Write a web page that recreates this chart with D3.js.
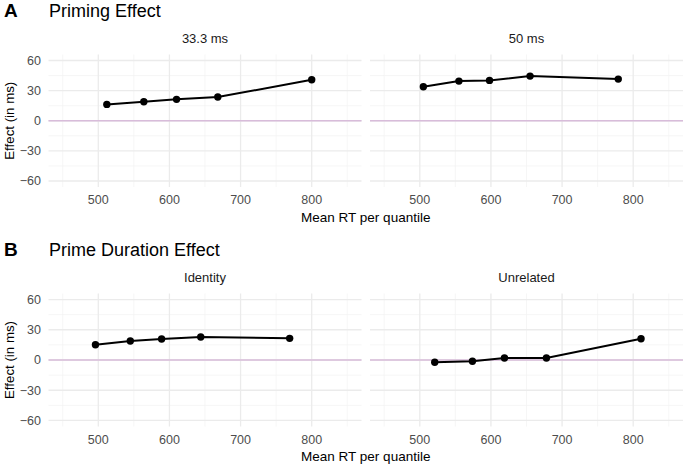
<!DOCTYPE html>
<html>
<head>
<meta charset="utf-8">
<script src="https://cdn.jsdelivr.net/npm/d3@7"></script>
<style>
  body { margin: 0; background: #fff; }
  svg { display: block; font-family: "Liberation Sans", Arial, sans-serif; }
</style>
</head>
<body>
<div id="chart"></div>
<script>
// values
const rtPrime33 = [512, 564, 610, 668, 800]
const effPrime33 = [16.3, 18.9, 21.3, 23.6, 40.8]
const rtPrime50 = [505, 555, 598, 655, 779]
const effPrime50 = [33.8, 39.5, 40.2, 44.5, 41.5]
const rtIdentity = [496, 545, 589, 644, 769]
const effIdentity = [15.2, 18.8, 20.8, 22.8, 21.5]
const rtUnrelated = [521, 574, 619, 678, 811]
const effUnrelated = [-2.3, -1.3, 2, 2, 21.1]

const xTicks = [500, 600, 700, 800]
const xMinor = [450, 550, 650, 750, 850]
const yTicks = [60, 30, 0, -30, -60]
const yMinor = [45, 15, -15, -45]

const rows = [
  { tag: "A", title: "Priming Effect", top: 54.5, bottom: 187,
    facets: [
      { label: "33.3 ms", rt: rtPrime33, eff: effPrime33 },
      { label: "50 ms", rt: rtPrime50, eff: effPrime50 }
    ] },
  { tag: "B", title: "Prime Duration Effect", top: 293.5, bottom: 426.5,
    facets: [
      { label: "Identity", rt: rtIdentity, eff: effIdentity },
      { label: "Unrelated", rt: rtUnrelated, eff: effUnrelated }
    ] }
]

const width = 685, height = 464
const cols = [[48.5, 361.5], [370, 683]]

const svg = d3.select("#chart").append("svg")
  .attr("width", width)
  .attr("height", height)

rows.forEach(row => {
  const y = d3.scaleLinear().domain([-66, 66]).range([row.bottom, row.top])

  svg.append("text")
    .attr("x", 4).attr("y", row.top - 37.5)
    .attr("font-size", 19).attr("font-weight", "bold")
    .text(row.tag)
  svg.append("text")
    .attr("x", 49).attr("y", row.top - 37.5)
    .attr("font-size", 18)
    .text(row.title)

  // y axis title
  svg.append("text")
    .attr("transform", `translate(14,${(row.top + row.bottom) / 2}) rotate(-90)`)
    .attr("text-anchor", "middle")
    .attr("font-size", 13.3)
    .text("Effect (in ms)")

  // y tick labels
  svg.append("g").selectAll("text").data(yTicks).join("text")
    .attr("x", 41).attr("y", d => y(d)).attr("dy", "0.35em")
    .attr("text-anchor", "end").attr("font-size", 12.5).attr("fill", "#4d4d4d")
    .text(d => d < 0 ? "\u2212" + Math.abs(d) : d)

  row.facets.forEach((f, i) => {
    const x = d3.scaleLinear().domain([430, 870]).range(cols[i])
    const g = svg.append("g")

    g.selectAll(".ymin").data(yMinor).join("line")
      .attr("x1", cols[i][0]).attr("x2", cols[i][1])
      .attr("y1", d => y(d)).attr("y2", d => y(d))
      .attr("stroke", "#f2f2f2").attr("stroke-width", 0.7)
    g.selectAll(".xmin").data(xMinor).join("line")
      .attr("x1", d => x(d)).attr("x2", d => x(d))
      .attr("y1", row.top).attr("y2", row.bottom)
      .attr("stroke", "#f2f2f2").attr("stroke-width", 0.7)
    g.selectAll(".ymaj").data(yTicks).join("line")
      .attr("x1", cols[i][0]).attr("x2", cols[i][1])
      .attr("y1", d => y(d)).attr("y2", d => y(d))
      .attr("stroke", "#ebebeb").attr("stroke-width", 1.3)
    g.selectAll(".xmaj").data(xTicks).join("line")
      .attr("x1", d => x(d)).attr("x2", d => x(d))
      .attr("y1", row.top).attr("y2", row.bottom)
      .attr("stroke", "#ebebeb").attr("stroke-width", 1.3)

    // zero reference
    g.append("line")
      .attr("x1", cols[i][0]).attr("x2", cols[i][1])
      .attr("y1", y(0)).attr("y2", y(0))
      .attr("stroke", "#d8bcda").attr("stroke-width", 1.5)

    // strip label
    g.append("text")
      .attr("x", (cols[i][0] + cols[i][1]) / 2).attr("y", row.top - 12)
      .attr("text-anchor", "middle").attr("font-size", 13).attr("fill", "#1a1a1a")
      .text(f.label)

    // x tick labels
    g.selectAll(".xt").data(xTicks).join("text")
      .attr("x", d => x(d)).attr("y", row.bottom + 13).attr("dy", "0.35em")
      .attr("text-anchor", "middle").attr("font-size", 12.5).attr("fill", "#4d4d4d")
      .text(d => d)

    const pts = f.rt.map((r, k) => [r, f.eff[k]])
    g.append("path")
      .datum(pts)
      .attr("fill", "none").attr("stroke", "#000").attr("stroke-width", 2)
      .attr("d", d3.line().x(d => x(d[0])).y(d => y(d[1])))
    g.selectAll("circle").data(pts).join("circle")
      .attr("cx", d => x(d[0])).attr("cy", d => y(d[1])).attr("r", 3.7)
      .attr("fill", "#000")
  })

  svg.append("text")
    .attr("x", (cols[0][0] + cols[1][1]) / 2).attr("y", row.bottom + 30).attr("dy", "0.35em")
    .attr("text-anchor", "middle").attr("font-size", 13.5)
    .text("Mean RT per quantile")
})
</script>
</body>
</html>
